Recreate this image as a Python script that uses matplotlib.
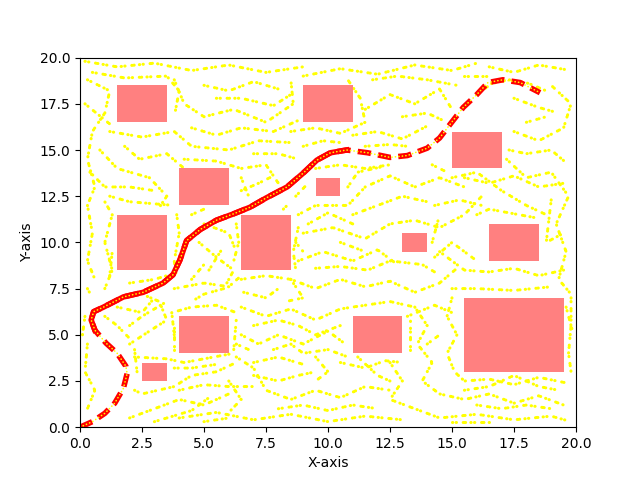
import matplotlib.pyplot as plt
from matplotlib.patches import Rectangle

# obstacles: (x, y, width, height)
obstacles = [(1.5, 16.5, 2, 2), (9, 16.5, 2, 2), (4, 12, 2, 2), (9.5, 12.5, 1, 1),
             (1.5, 8.5, 2, 3), (6.5, 8.5, 2, 3), (15, 14, 2, 2), (13, 9.5, 1, 1),
             (16.5, 9, 2, 2), (15.5, 3, 4, 4), (11, 4, 2, 2), (4, 4, 2, 2),
             (2.5, 2.5, 1, 1)]

# final path
path_x = [0, 0.5, 1.0, 1.4, 1.75, 1.9, 1.85, 1.5, 1.05, 0.6, 0.45, 0.55, 0.95, 1.75,
          2.55, 3.35, 3.75, 4.03, 4.3, 4.85, 5.5, 6.2, 6.85, 7.5, 8.35, 9.0, 9.55,
          10.1, 10.75, 11.6, 12.5, 13.2, 14.0, 14.5, 14.9, 15.45, 16.0, 16.45, 17.05,
          17.75, 18.55]
path_y = [0, 0.3, 0.75, 1.3, 2.1, 2.9, 3.3, 4.0, 4.55, 5.25, 5.8, 6.25, 6.5, 7.05,
          7.3, 7.8, 8.25, 9.05, 10.1, 10.7, 11.2, 11.55, 11.9, 12.4, 13.0, 13.75, 14.45,
          14.85, 15.0, 14.85, 14.6, 14.7, 15.1, 15.65, 16.35, 17.3, 18.0, 18.65, 18.8,
          18.65, 18.1]

# explored branches (rough traces of the yellow dot trails)
trails = [
    [(0.2, 19.8), (1.5, 19.5), (3, 19.7), (4.5, 19.3), (6, 19.6), (7.5, 19.2), (9, 19.5)],
    [(9, 19.0), (10.5, 19.4), (12, 19.1), (13.5, 19.6), (15, 19.3), (16, 19.7)],
    [(16.5, 19.5), (17.5, 19.2), (18.5, 19.6), (19.8, 19.3)],
    [(0.3, 18.8), (1.2, 18.2), (1.0, 17.0), (0.5, 16.0), (0.3, 14.5), (0.6, 13.0),
     (0.3, 12.0), (0.5, 10.5), (0.3, 9.0), (0.6, 8.0)],
    [(3.8, 18.8), (4.2, 17.5), (5, 16.8), (6.2, 17.2), (7.5, 16.5), (8.6, 17.5), (8.5, 18.8)],
    [(1.2, 16.0), (2.5, 15.7), (3.8, 16.0), (4.5, 15.2), (6, 15.0), (7.2, 15.5), (8.5, 15.4)],
    [(0.8, 15.0), (1.5, 14.0), (2.8, 13.5), (3.5, 12.5), (3.2, 11.9)],
    [(1.2, 12.5), (2.0, 12.2), (3.8, 12.0)],
    [(4.2, 14.5), (5.5, 14.4), (6.5, 14.0), (7.5, 14.2), (8.0, 13.2)],
    [(6.5, 13.5), (6.8, 12.5)],
    [(3.9, 11.5), (4.0, 10.5), (3.8, 9.0), (3.9, 8.0)],
    [(4.8, 10.0), (5.5, 9.2), (6.2, 8.5), (5.8, 7.5), (5.0, 7.2), (4.5, 6.8)],
    [(5.0, 11.0), (6.0, 10.5), (6.3, 9.5)],
    [(8.8, 11.5), (9.5, 12.0), (10.8, 12.0), (11.5, 13.0), (12.5, 13.6), (13.5, 13.0),
     (14.5, 13.5), (15.5, 13.0)],
    [(9.0, 10.5), (10.2, 10.8), (11.5, 10.2), (12.5, 11.0), (13.5, 11.2), (14.5, 10.8),
     (15.5, 11.5), (16.2, 12.5)],
    [(8.8, 9.0), (9.8, 9.5), (11.0, 9.0), (12.0, 9.6), (12.8, 8.8)],
    [(8.5, 8.0), (9.5, 7.5), (10.5, 8.0), (11.5, 7.6), (12.5, 7.9), (13.5, 7.3),
     (14.5, 7.8), (15.2, 8.6)],
    [(14.3, 9.2), (15.0, 10.0), (16.0, 9.0)],
    [(9.5, 14.0), (10.5, 14.2), (11.5, 14.0), (12.5, 14.2)],
    [(11.0, 15.8), (12.0, 16.0), (13.0, 15.6), (14.0, 16.3)],
    [(11.5, 17.2), (12.5, 18.0), (13.5, 17.5), (14.5, 18.3), (15.0, 17.2)],
    [(17.5, 16.0), (18.5, 15.5), (19.5, 16.2), (19.8, 17.5), (19.0, 18.5)],
    [(17.2, 14.5), (18.0, 13.5), (19.0, 13.8), (19.7, 12.5), (19.2, 11.0), (19.6, 9.5),
     (19.3, 8.0), (19.8, 7.2)],
    [(15.0, 13.5), (16.0, 13.8), (17.0, 12.8), (18.0, 12.0), (18.8, 11.5)],
    [(16.0, 11.5), (16.5, 11.8), (18.5, 11.3)],
    [(14.5, 9.5), (15.5, 8.5), (16.5, 8.4), (17.5, 8.6), (18.5, 8.2), (19.5, 8.5)],
    [(15.0, 7.5), (16.0, 7.5), (17.5, 7.4), (19.0, 7.6)],
    [(15.0, 7.0), (14.8, 6.0), (15.2, 5.0), (14.8, 4.0), (15.1, 3.0), (15.5, 2.5),
     (16.5, 2.6), (17.5, 2.3), (18.5, 2.7), (19.6, 2.4)],
    [(19.8, 7.0), (19.8, 5.5), (19.7, 4.0), (19.8, 3.0)],
    [(13.5, 6.5), (14.0, 5.5), (13.6, 4.5), (14.2, 3.5), (13.8, 2.5), (14.5, 1.8),
     (15.5, 1.5), (16.5, 1.8), (17.5, 1.3), (18.5, 1.7), (19.5, 1.2)],
    [(12.5, 3.5), (13.0, 2.5), (12.5, 1.5), (13.5, 1.0), (14.5, 0.5), (16.0, 0.7),
     (17.5, 0.4), (19.0, 0.6), (19.8, 0.3)],
    [(10.5, 3.5), (11.5, 3.2), (12.3, 3.6), (13.0, 3.5)],
    [(6.5, 6.5), (7.5, 6.0), (8.5, 6.4), (9.5, 5.8), (10.5, 6.4), (11.5, 6.6),
     (12.5, 6.8), (13.5, 6.5)],
    [(6.5, 5.0), (7.2, 4.5), (8.0, 5.0), (9.0, 4.5), (10.0, 5.2), (10.7, 4.5)],
    [(6.3, 3.8), (7.0, 3.2), (7.5, 2.0), (8.5, 1.5), (9.5, 2.0), (10.5, 1.6),
     (11.5, 2.2), (12.5, 2.0)],
    [(9.5, 3.8), (10.0, 3.0), (9.5, 2.5)],
    [(4.0, 0.5), (5.5, 0.8), (7.0, 0.4), (8.5, 0.7), (10.0, 0.3), (11.5, 0.6), (13.0, 0.4)],
    [(6.0, 2.5), (6.5, 1.5), (6.0, 0.8)],
    [(7.0, 3.5), (8.0, 3.8), (9.0, 3.4)],
    [(2.0, 0.5), (3.0, 1.0), (4.0, 1.5), (5.0, 1.2), (6.0, 1.8)],
    [(2.2, 2.0), (2.5, 1.8), (3.8, 2.2), (4.5, 2.8), (5.5, 3.0), (6.3, 3.5)],
    [(2.2, 3.8), (3.5, 3.7), (4.2, 3.5), (5.0, 3.7), (6.2, 4.0)],
    [(3.8, 5.0), (3.7, 6.2), (4.5, 6.5), (5.5, 6.6), (6.3, 6.2)],
    [(2.0, 4.5), (2.8, 5.2), (3.5, 5.8), (3.2, 6.8), (2.5, 7.2)],
    [(0.3, 4.5), (0.2, 3.0), (0.6, 2.0), (0.3, 1.0)],
    [(1.5, 6.5), (2.5, 6.2), (3.0, 7.0)],
    [(3.8, 7.5), (5.0, 7.8), (6.0, 7.6), (6.5, 8.2)],
    [(1.0, 7.5), (1.3, 8.5), (1.0, 10.0), (1.3, 11.5), (1.0, 12.2)],
    [(6.5, 8.0), (7.5, 8.2), (8.5, 8.0), (9.0, 7.0), (8.3, 6.8)],
    [(8.5, 16.0), (9.5, 16.2), (10.5, 15.9), (11.5, 16.5), (11.3, 17.8), (10.8, 18.8)],
    [(5, 18.5), (6, 18.2), (7, 18.7), (8, 18.3)],
    [(16.0, 18.0), (16.6, 18.6), (17.3, 18.8), (18.1, 18.6), (18.8, 18.2)],
    [(0.5, 19.2), (1.8, 18.9), (3.5, 19.0), (4.0, 18.2), (3.8, 16.8)],
    [(0.2, 17.5), (1.3, 16.3)],
    [(1.8, 15.2), (2.4, 14.5), (3.5, 14.8), (4.2, 14.0)],
    [(0.4, 13.8), (1.0, 13.0), (2.0, 13.0), (3.0, 12.8)],
    [(4.5, 16.2), (5.5, 15.8), (6.5, 16.2), (7.8, 16.0), (8.8, 16.6)],
    [(5.5, 17.8), (6.5, 17.8), (7.8, 17.4), (8.5, 18.0)],
    [(7.0, 14.8), (8.0, 14.8), (8.8, 14.5)],
    [(9.0, 15.2), (9.8, 15.5), (10.5, 15.4)],
    [(11.8, 18.8), (12.8, 19.0), (14.0, 18.8), (15.2, 18.5)],
    [(11.5, 15.2), (12.5, 15.3), (13.2, 15.2)],
    [(13.0, 16.8), (14.0, 17.0), (14.8, 16.5)],
    [(15.5, 19.0), (16.5, 19.0)],
    [(17.5, 17.8), (18.5, 17.3), (19.3, 17.0)],
    [(17.3, 15.0), (18.0, 14.8), (19.0, 15.0), (19.7, 14.2)],
    [(18.0, 16.5), (18.8, 16.8)],
    [(15.5, 13.5), (16.5, 13.2), (17.5, 13.6), (18.5, 13.0), (19.5, 13.2)],
    [(19.0, 12.3), (18.8, 10.0), (19.5, 10.5)],
    [(14.3, 12.0), (15.3, 12.3), (16.2, 12.0)],
    [(14.2, 14.2), (14.8, 13.8)],
    [(8.7, 12.5), (9.2, 13.2)],
    [(10.8, 13.0), (11.2, 13.8), (12.2, 14.1)],
    [(11.0, 11.5), (12.0, 12.0), (13.0, 12.5), (14.0, 12.2)],
    [(9.2, 11.0), (10.0, 11.6), (11.0, 11.0)],
    [(14.2, 10.0), (14.5, 11.5)],
    [(9.5, 8.6), (10.5, 8.7), (11.6, 8.5), (12.5, 9.0), (13.8, 8.8), (14.3, 8.4)],
    [(8.7, 10.0), (9.0, 9.5)],
    [(10.5, 10.0), (11.5, 9.5)],
    [(6.6, 7.3), (7.5, 7.0), (8.0, 7.5)],
    [(7.0, 5.5), (8.0, 5.8), (8.8, 5.5), (9.5, 5.0), (10.5, 5.5)],
    [(6.3, 4.5), (6.8, 4.2)],
    [(7.8, 4.2), (8.5, 4.5), (9.0, 4.0), (10.0, 4.2), (10.8, 3.8)],
    [(7.0, 2.8), (8.0, 2.5), (8.8, 2.8), (9.5, 3.0)],
    [(8.0, 1.0), (9.0, 1.2), (10.0, 0.9), (11.0, 1.2), (12.0, 1.0)],
    [(11.2, 3.8), (12.0, 2.8), (12.5, 2.5)],
    [(13.3, 4.2), (13.3, 5.8)],
    [(13.2, 6.0), (14.3, 6.6), (15.0, 6.2)],
    [(14.0, 4.5), (14.5, 5.0)],
    [(15.5, 2.0), (16.5, 2.2), (17.5, 2.8), (18.5, 2.2), (19.3, 2.0)],
    [(16.0, 1.2), (17.0, 1.0), (18.0, 1.2), (19.0, 1.0)],
    [(15.0, 0.3), (16.5, 0.3)],
    [(19.6, 6.5), (19.9, 5.0)],
    [(5.0, 0.3), (6.0, 0.5)],
    [(3.0, 0.3), (4.5, 0.9), (5.3, 1.7)],
    [(4.0, 2.0), (5.0, 2.3), (6.0, 2.2), (7.0, 2.2)],
    [(2.3, 3.0), (2.2, 4.2)],
    [(3.8, 3.2), (4.5, 3.2), (5.5, 3.4)],
    [(3.8, 4.2), (3.8, 5.5)],
    [(6.2, 4.2), (6.3, 5.8)],
    [(2.0, 5.5), (2.5, 6.0), (3.5, 6.8)],
    [(1.0, 6.0), (1.5, 5.5), (2.0, 4.8)],
    [(0.2, 6.0), (0.1, 5.0)],
    [(0.3, 7.5), (0.5, 7.0)],
    [(2.0, 7.8), (3.0, 8.0), (3.5, 8.2)],
    [(1.2, 8.2), (1.3, 9.5)],
    [(4.5, 11.5), (5.0, 11.8)],
    [(6.3, 11.0), (6.4, 10.0), (6.2, 9.0)],
    [(5.2, 8.5), (5.8, 9.8)],
    [(4.5, 8.0), (5.0, 8.8)],
    [(8.8, 10.8), (8.6, 9.5), (8.7, 8.5)],
    [(6.5, 12.8), (7.2, 13.2), (7.8, 13.6)],
    [(8.2, 11.8), (8.5, 12.2)],
]

fig, ax = plt.subplots()

for trail in trails:
    xs, ys = zip(*trail)
    ax.plot(xs, ys, color='yellow', lw=2.2,
            linestyle=(0, (0.1, 1.1, 0.1, 2.2, 0.1, 0.6, 0.1, 1.7)),
            dash_capstyle='round', zorder=1)

for (x, y, w, h) in obstacles:
    ax.add_patch(Rectangle((x, y), w, h, facecolor=(1, 0.5, 0.5), zorder=3))

# middle stretch is drawn over several times, so it looks solid
ax.plot(path_x[9:29], path_y[9:29], color='red', lw=4, zorder=2)
ax.plot(path_x, path_y, 'r--', lw=4, dashes=(2.4, 1.3), zorder=2)
ax.plot(path_x, path_y, color='yellow', lw=1.2, linestyle=(0, (0.1, 2)),
        dash_capstyle='round', zorder=2)

ax.set_xlim(0, 20)
ax.set_ylim(0, 20)
ax.set_xlabel('X-axis')
ax.set_ylabel('Y-axis')
fig.savefig('out.png')
